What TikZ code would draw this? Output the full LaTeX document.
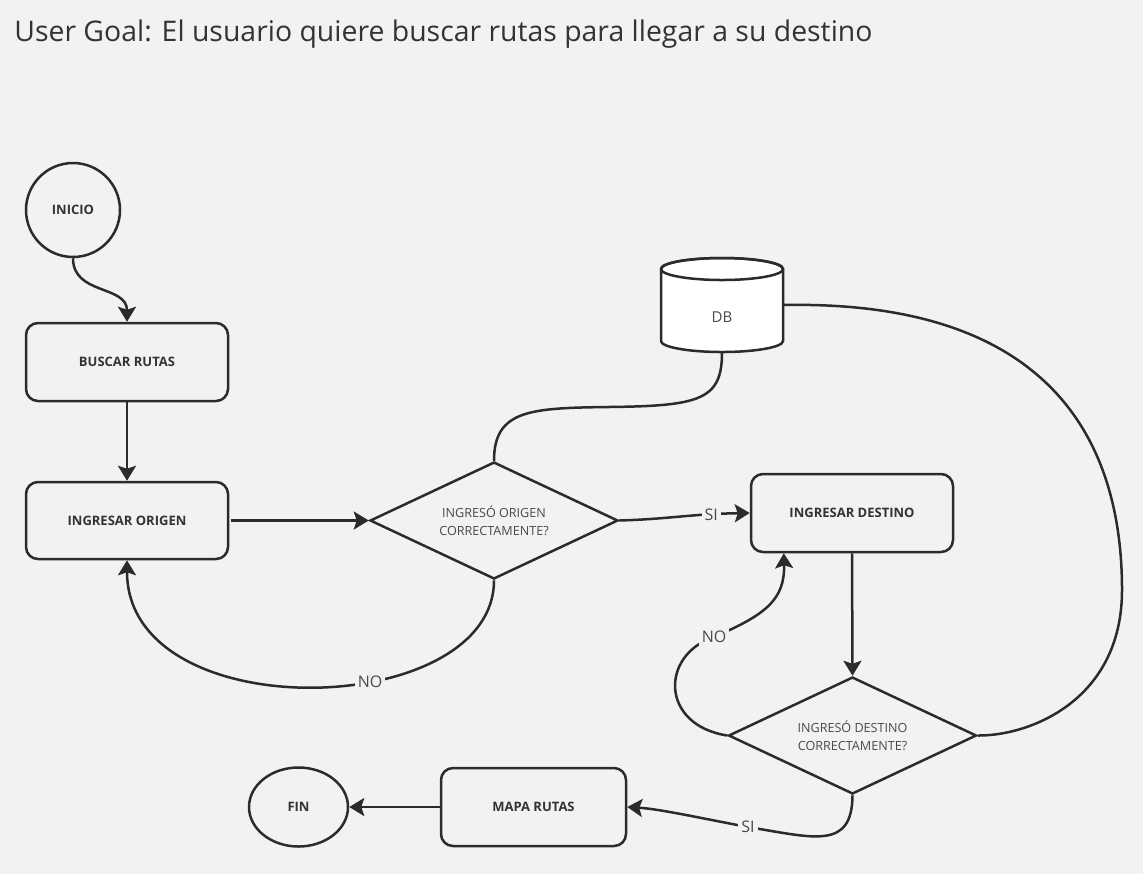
\documentclass[tikz,border=0pt]{standalone}
\usepackage{fontspec}
\setmainfont{Open Sans}
\usetikzlibrary{shapes.geometric,arrows.meta,calc}
\definecolor{bg}{HTML}{F2F2F2}
\definecolor{ln}{HTML}{2B2B2B}
\definecolor{tx}{HTML}{333333}
\definecolor{lt}{HTML}{4A4A4A}
\tikzset{
  box/.style={draw=ln,line width=1.25pt,rounded corners=6pt,rectangle,inner sep=0pt,
    font=\fontsize{6.5}{8}\selectfont\bfseries,text=tx},
  dec/.style={draw=ln,line width=1.25pt,diamond,shape aspect=2.12,inner sep=0pt,minimum width=124pt,minimum height=58.5pt,
    font=\fontsize{6.3}{9}\selectfont,text=lt,align=center},
  term/.style={draw=ln,line width=1.25pt,inner sep=0pt,font=\fontsize{6.5}{8}\selectfont\bfseries,text=tx},
  arr/.style={draw=ln,line width=1.25pt,-{Stealth[length=7.5pt,width=9pt,inset=1.5pt]}},
  con/.style={draw=ln,line width=1.25pt},
  lbl/.style={fill=bg,inner sep=1.5pt,font=\fontsize{8}{9}\selectfont,text=lt}
}
\begin{document}
\begin{tikzpicture}[x=0.5pt,y=-0.5pt]
\fill[bg] (0,0) rectangle (1143,874);
\useasboundingbox (0,0) rectangle (1143,874);
\node[anchor=base west,inner sep=0pt,text=tx,font=\fontsize{14.2}{16}\selectfont] (title) at (14,41) {User Goal: El usuario quiere buscar rutas para llegar a su destino};
% nodes
\node[term,circle,minimum size=47pt] (inicio) at (73,210) {INICIO};
\node[box,minimum width=101pt,minimum height=39pt] (buscar) at (127,362) {BUSCAR RUTAS};
\node[box,minimum width=101pt,minimum height=38.5pt] (origen) at (127,520.5) {INGRESAR ORIGEN};
\node[dec] (d1) at (494,520.5) {INGRESÓ ORIGEN\\CORRECTAMENTE?};
\node[box,minimum width=101pt,minimum height=39pt] (destino) at (852,513) {INGRESAR DESTINO};
\node[dec] (d2) at (852.5,735.5) {INGRESÓ DESTINO\\CORRECTAMENTE?};
\node[box,minimum width=92.5pt,minimum height=39pt] (mapa) at (533.5,807) {MAPA RUTAS};
\node[term,ellipse,minimum width=49.5pt,minimum height=39.5pt] (fin) at (298.5,807) {FIN};
% DB cylinder
\node[inner sep=0pt,minimum width=61pt,minimum height=47pt] (db) at (722,305) {};
\filldraw[fill=white,draw=ln,line width=1.25pt] (661,269) -- (661,341) arc[start angle=180,end angle=360,x radius=30.5pt,y radius=5.5pt] -- (783,269) arc[start angle=0,end angle=180,x radius=30.5pt,y radius=5.5pt] -- cycle;
\draw[ln,line width=1.25pt] (722,269) ellipse[x radius=30.5pt,y radius=5.5pt];
\node[text=lt,font=\fontsize{7.5}{9}\selectfont] at (722,317) {DB};
% connectors
\draw[arr] (inicio.south) .. controls (73,295) and (127,285) .. (buscar.north);
\draw[arr] (buscar.south) -- (origen.north);
\draw[arr] (origen.east) ++(2,0) -- (d1.west);
\draw[arr] (d1.east) .. controls (670,519) and (690,514) .. node[lbl,pos=0.75]{SI} (destino.west);
\draw[arr] (d1.south) .. controls (494,720) and (127,730) .. node[lbl,pos=0.39]{NO} (origen.south);
\draw[con] (d1.north) .. controls (494,410) and (530,408) .. (608,407) .. controls (700,406) and (722,400) .. (db.south);
\draw[con] (db.east) .. controls (1040,300) and (1122,430) .. (1122,590) .. controls (1122,700) and (1030,736) .. (d2.east);
\draw[arr] (destino.south) -- (d2.north);
\draw[arr] (d2.west) .. controls (660,725) and (660,655) .. (714,637) node[lbl]{NO} .. controls (765,615) and (785,600) .. ([xshift=17pt]destino.south west);
\draw[arr] (d2.south) .. controls (852,850) and (815,838) .. (748,827) node[lbl]{SI} .. controls (700,818) and (660,809) .. (mapa.east);
\draw[arr] (mapa.west) -- (fin.east);
\end{tikzpicture}
\end{document}
